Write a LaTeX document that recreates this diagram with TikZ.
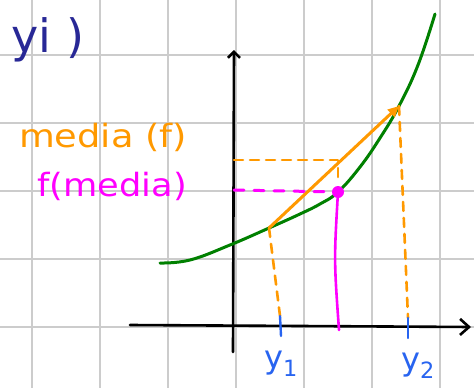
\documentclass[tikz,border=0pt]{standalone}
\usepackage{fontspec}
\setmainfont{DejaVu Sans}
\usetikzlibrary{arrows.meta}
\definecolor{penorange}{RGB}{255,153,0}
\definecolor{penmagenta}{RGB}{255,0,255}
\definecolor{pengreen}{RGB}{0,128,0}
\definecolor{pennavy}{RGB}{40,40,150}
\definecolor{penblue}{RGB}{40,100,240}
\begin{document}
\begin{tikzpicture}[x=1pt,y=-1pt,line cap=round,line join=round,
  gridline/.style={draw=black!20,line width=2pt},
  axis/.style={draw=black,line width=2.6pt},
  odash/.style={draw=penorange,line width=2.6pt,dash pattern=on 9pt off 7pt},
  mdash/.style={draw=penmagenta,line width=3pt,dash pattern=on 10pt off 10pt},
  tick/.style={draw=penblue,line width=2.4pt},
  pen/.style={inner sep=0pt,font=\fontsize{32}{32}\selectfont}]
\useasboundingbox (0,0) rectangle (474,388);
\fill[white] (0,0) rectangle (474,388);
% grid paper
\foreach \x in {32,100,...,440} \draw[gridline] (\x,0) -- (\x,388);
\foreach \y in {55,123,...,327} \draw[gridline] (0,\y) -- (474,\y);
% axes
\coordinate (xl) at (130,325);
\coordinate (xr) at (471,327);
\coordinate (yb) at (233,352);
\coordinate (yt) at (234,50);
\draw[axis,-{Straight Barb[length=9pt,width=16pt]}] (xl) -- (xr);
\draw[axis,-{Straight Barb[length=6pt,width=12pt]}] (yb) -- (yt);
% points on the curve
\coordinate (A) at (269,228);
\coordinate (B) at (399,106);
\coordinate (M) at (338,192);
% curve
\draw[pengreen,line width=3pt] plot[smooth,tension=0.7] coordinates
  {(160,263) (190,260) (230,245) (269,228) (300,214) (320,204) (338,192) (360,167) (380,138) (399,106) (418,65) (435,14)};
% ticks and labels on the x axis
\coordinate (t1a) at (280,316); \coordinate (t1b) at (281,336);
\coordinate (t2a) at (408,318); \coordinate (t2b) at (408,338);
\draw[odash] (A) -- (t1a);
\draw[odash] (B) -- (t2a);
\draw[tick] (t1a) -- (t1b);
\draw[tick] (t2a) -- (t2b);
\node[pen,text=penblue] (y1) at (281,364) {y\textsubscript{1}};
\node[pen,text=penblue] (y2) at (418,366) {y\textsubscript{2}};
% mean of f
\coordinate (mf0) at (234,160);
\coordinate (mf1) at (338,160);
\coordinate (mf2) at (338,178);
\draw[odash] (mf0) -- (mf1) -- (mf2);
\draw[penorange,line width=3pt,-{Triangle[length=11pt,width=10pt]}] (A) -- (B);
% f of the mean
\coordinate (fm0) at (234,190);
\coordinate (fm1) at (339,330);
\draw[mdash] (fm0) -- (M);
\draw[penmagenta,line width=2.6pt] (M) .. controls (334,260) .. (fm1);
\fill[penmagenta] (M) circle (6);
% labels
\node[pen,text=penorange] (mediaf) at (103,137) {\scalebox{1.15}[1]{media (f)}};
\node[pen,text=penmagenta] (fmedia) at (112,186) {\scalebox{1.1}[1]{f(media)}};
\node[pen,text=pennavy,font=\fontsize{46}{46}\selectfont] (yi) at (48,40) {yi )};
\end{tikzpicture}
\end{document}
